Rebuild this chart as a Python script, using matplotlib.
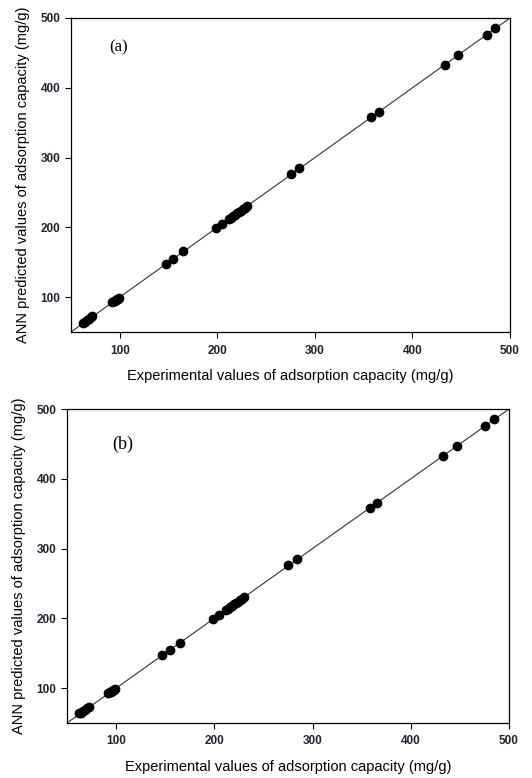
import matplotlib
matplotlib.use("Agg")
import matplotlib.pyplot as plt

# experimental vs ANN predicted adsorption capacity (mg/g)
exp_a = [62, 64, 66, 68, 70, 72, 92, 94, 95, 96, 97, 98, 99,
         147, 155, 165, 199, 205, 212, 214, 216, 218, 220, 222, 224,
         226, 228, 230, 275, 284, 358, 366, 433, 447, 476, 485]
pred_a = [63, 65, 67, 69, 71, 73, 93, 94, 95, 96, 97, 98, 99,
          147, 155, 166, 199, 205, 212, 214, 216, 218, 220, 222, 224,
          226, 228, 231, 276, 285, 358, 366, 433, 447, 476, 485]
exp_b = exp_a
pred_b = [64, 65, 67, 69, 71, 73, 93, 94, 95, 96, 97, 98, 99,
          147, 155, 165, 199, 205, 212, 214, 216, 218, 220, 222, 224,
          226, 228, 230, 276, 285, 358, 366, 433, 447, 476, 485]
ticks = [100, 200, 300, 400, 500]
panel_tags = ["(a)", "(b)"]

W, H = 532, 778
fig = plt.figure(figsize=(W / 100, H / 100), dpi=100)

# pixel boxes: left, top, right, bottom
boxes = [(71, 18, 510, 332), (67, 409, 509, 723)]
tag_pos = [(0.088, 0.895), (0.103, 0.872)]
tag_size = [12, 13]
data = [(exp_a, pred_a), (exp_b, pred_b)]

for (l, t, r, b), tag, tp, ts, (xs, ys) in zip(boxes, panel_tags, tag_pos, tag_size, data):
    ax = fig.add_axes([l / W, 1 - b / H, (r - l) / W, (b - t) / H])
    ax.plot([50, 500], [50, 500], color="#333333", lw=0.8, zorder=1)
    ax.plot(xs, ys, "o", color="black", ms=6, zorder=2)
    ax.set_xlim(50, 500)
    ax.set_ylim(50, 500)
    ax.set_xticks(ticks)
    ax.set_yticks(ticks)
    ax.tick_params(direction="out", length=4, width=0.8, labelsize=8.5,
                   labelcolor="#222233", top=False, right=False)
    ax.tick_params(axis="x", pad=5)
    for lab in ax.get_xticklabels() + ax.get_yticklabels():
        lab.set_family("Liberation Sans")
        lab.set_fontweight("bold")
    for sp in ax.spines.values():
        sp.set_linewidth(0.9)
    ax.set_xlabel("Experimental values of adsorption capacity (mg/g)",
                  family="Liberation Sans", fontsize=10.5, labelpad=9)
    ax.set_ylabel("ANN predicted values of adsorption capacity (mg/g)",
                  family="Liberation Sans", fontsize=10.5, labelpad=8)
    ax.text(tp[0], tp[1], tag, transform=ax.transAxes,
            family="Liberation Serif", fontsize=ts)

fig.savefig("out.png", dpi=100)
